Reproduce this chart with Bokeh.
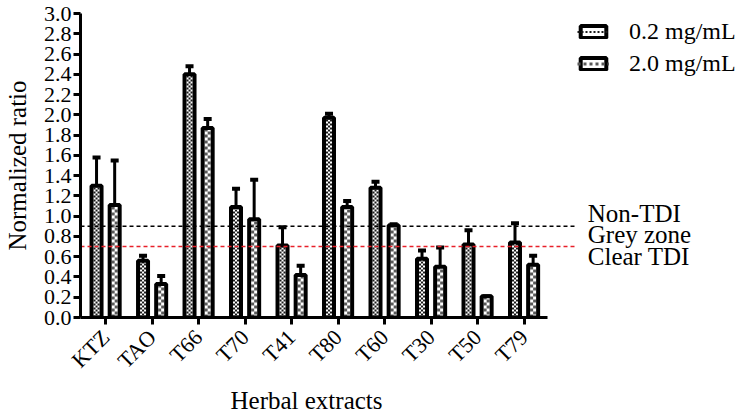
import math
from bokeh.plotting import figure
from bokeh.models import (FixedTicker, Whisker, TeeHead, ColumnDataSource, Legend, LegendItem,
                          Range1d, Title)
from bokeh.core.properties import value
from bokeh.embed import file_html
from bokeh.resources import INLINE

categories = ["KTZ", "TAO", "T66", "T70", "T41", "T80", "T60", "T30", "T50", "T79"]
mean_02 = [1.30, 0.56, 2.40, 1.09, 0.71, 1.97, 1.28, 0.58, 0.72, 0.74]
err_02 = [0.28, 0.05, 0.08, 0.18, 0.18, 0.04, 0.06, 0.08, 0.14, 0.19]
mean_20 = [1.11, 0.33, 1.87, 0.97, 0.42, 1.09, 0.91, 0.50, 0.21, 0.52]
err_20 = [0.44, 0.08, 0.09, 0.39, 0.09, 0.06, 0.01, 0.19, 0.00, 0.09]
series_labels = ["0.2 mg/mL", "2.0 mg/mL"]
thresholds = [0.9, 0.7]
threshold_colors = ["black", "#e8202a"]
zone_labels = ["Non-TDI", "Grey zone", "Clear TDI"]
zone_label_y = [1.03, 0.815, 0.605]
y_ticks = [round(0.2 * i, 1) for i in range(16)]

FONT = "Liberation Serif"

X0, X1 = -0.54, 13.87
X_AXIS_END = 9.5
FRAME_W = 670
PX = (X1 - X0) / FRAME_W          # one screen pixel in x data units

x_idx = list(range(len(categories)))
off = 0.195
BAR_W = 10 * PX
x02 = [i - off for i in x_idx]
x20 = [i + off for i in x_idx]
src02 = ColumnDataSource(dict(x=x02, top=mean_02, up=[m + e for m, e in zip(mean_02, err_02)]))
src20 = ColumnDataSource(dict(x=x20, top=mean_20, up=[m + e for m, e in zip(mean_20, err_20)]))

p = figure(width=750, height=413, output_backend="svg", toolbar_location=None,
           x_range=Range1d(X0, X1), y_range=Range1d(0, 3.0),
           min_border_left=80, min_border_top=13, min_border_right=0, min_border_bottom=95)
p.outline_line_color = None
p.xgrid.visible = False
p.ygrid.visible = False

# bar interiors (white) + checker texture built from dashed columns, then black outlines
p.vbar(x="x", top="top", bottom=0, width=BAR_W, source=src02, fill_color="white", line_color=None)
p.vbar(x="x", top="top", bottom=0, width=BAR_W, source=src20, fill_color="white", line_color=None)

fine_cols = []
for k, dx in enumerate([-2, 0, 2]):
    fine_cols.append(p.segment(x0=[x + dx * PX for x in x02], x1=[x + dx * PX for x in x02],
                               y0=[0] * len(x02), y1=mean_02, line_color="#1a1a1a", line_width=2,
                               line_dash="2 2", line_dash_offset=2 * (k % 2)))
coarse_cols = []
for k, dx in enumerate([-1.5, 1.5]):
    coarse_cols.append(p.segment(x0=[x + dx * PX for x in x20], x1=[x + dx * PX for x in x20],
                                 y0=[0] * len(x20), y1=mean_20, line_color="#5a5a5a", line_width=3,
                                 line_dash="3 3", line_dash_offset=3 * (k % 2)))

r1 = p.vbar(x="x", top="top", bottom=0, width=BAR_W, source=src02,
            fill_color=None, line_color="black", line_width=4)
r2 = p.vbar(x="x", top="top", bottom=0, width=BAR_W, source=src20,
            fill_color=None, line_color="black", line_width=4)

for s in (src02, src20):
    w = Whisker(base="x", upper="up", lower="top", source=s, line_width=3, line_color="black",
                upper_head=TeeHead(size=8, line_width=4, line_color="black"), lower_head=None)
    p.add_layout(w)

for t, c in zip(thresholds, threshold_colors):
    p.segment(x0=[X0], x1=[10.1], y0=[t], y1=[t], line_color=c, line_width=1.5, line_dash="4 3")

p.text(x=[10.37] * 3, y=zone_label_y, text=zone_labels, text_baseline="middle", text_align="left",
       text_font=value(FONT), text_font_size="25px", text_color="black")

# axes
p.xaxis.ticker = FixedTicker(ticks=x_idx)
p.xaxis.major_label_overrides = {i: c for i, c in enumerate(categories)}
p.xaxis.major_label_orientation = math.pi / 4
p.xaxis.bounds = (X0, X_AXIS_END)
p.yaxis.ticker = FixedTicker(ticks=y_ticks)
p.yaxis.major_label_overrides = {t: f"{t:.1f}" for t in y_ticks}
p.yaxis.axis_label = "Normalized ratio"
for ax in (p.xaxis, p.yaxis):
    ax.axis_line_width = 3
    ax.axis_line_color = "black"
    ax.major_tick_line_width = 3
    ax.major_tick_line_color = "black"
    ax.major_tick_out = 7
    ax.major_tick_in = 0
    ax.minor_tick_out = 0
    ax.minor_tick_in = 0
    ax.major_label_text_font = FONT
    ax.major_label_text_color = "black"
    ax.axis_label_text_font = FONT
    ax.axis_label_text_color = "black"
    ax.axis_label_text_font_size = "25px"
    ax.axis_label_text_font_style = "normal"
p.yaxis.major_label_text_font_size = "22px"
p.xaxis.major_label_text_font_size = "22px"
p.yaxis.major_label_standoff = 2
p.xaxis.major_label_standoff = 9
p.yaxis.axis_label_standoff = 10

# x-axis title centred under the drawn axis line (not under the wider frame)
p.add_layout(Title(text="Herbal extracts", align="left", offset=150, standoff=0,
                   text_font=FONT, text_font_size="25px", text_font_style="normal",
                   text_color="black"), "below")

legend = Legend(items=[LegendItem(label=series_labels[0], renderers=[r1, fine_cols[0]]),
                       LegendItem(label=series_labels[1], renderers=[r2, coarse_cols[0]])],
                location=(497, 240))
legend.glyph_width = 32
legend.glyph_height = 15
legend.label_text_font = FONT
legend.label_text_color = "black"
legend.label_text_font_size = "24px"
legend.label_standoff = 20
legend.spacing = 5
legend.padding = 0
legend.margin = 0
legend.border_line_color = None
legend.background_fill_alpha = 0
p.add_layout(legend)

open("out.html", "w").write(file_html(p, INLINE))
